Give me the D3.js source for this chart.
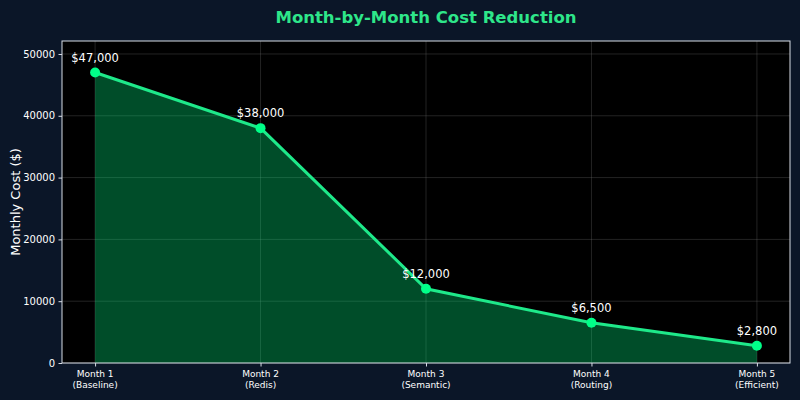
<!DOCTYPE html>
<html><head><meta charset="utf-8">
<script src="https://cdn.jsdelivr.net/npm/d3@7"></script>
<style>body{margin:0;background:#0b1628;} text{font-family:"DejaVu Sans",sans-serif;}</style>
</head><body>
<svg id="c" width="800" height="400"></svg>
<script>
const months = ["Month 1", "Month 2", "Month 3", "Month 4", "Month 5"];
const phases = ["(Baseline)", "(Redis)", "(Semantic)", "(Routing)", "(Efficient)"];
const costs = [47000, 38000, 12000, 6500, 2800];
const costLabels = ["$47,000", "$38,000", "$12,000", "$6,500", "$2,800"];
const yTicks = [0, 10000, 20000, 30000, 40000, 50000];

const svg = d3.select("#c");
const L = 62, R = 790, T = 41, B = 363;
svg.append("rect").attr("width", 800).attr("height", 400).attr("fill", "#0b1628");
svg.append("rect").attr("x", L).attr("y", T).attr("width", R - L).attr("height", B - T).attr("fill", "#000");

const x = d3.scaleLinear().domain([-0.2, 4.2]).range([L, R]);
const y = d3.scaleLinear().domain([0, 52100]).range([B, T]);

// grid
const g = svg.append("g");
g.selectAll(".gy").data(yTicks).join("line")
  .attr("x1", L).attr("x2", R).attr("y1", d => y(d)).attr("y2", d => y(d))
  .attr("stroke", "#808080").attr("stroke-opacity", 0.35).attr("stroke-width", 0.8);
g.selectAll(".gx").data(months).join("line")
  .attr("y1", T).attr("y2", B).attr("x1", (d, i) => x(i)).attr("x2", (d, i) => x(i))
  .attr("stroke", "#808080").attr("stroke-opacity", 0.35).attr("stroke-width", 0.8);

// area
const area = d3.area().x((d, i) => x(i)).y0(y(0)).y1(d => y(d));
svg.append("path").datum(costs).attr("d", area).attr("fill", "#00ff88").attr("fill-opacity", 0.3);
const line = d3.line().x((d, i) => x(i)).y(d => y(d));
svg.append("path").datum(costs).attr("d", line).attr("fill", "none").attr("stroke", "#1ee98a").attr("stroke-width", 3);
svg.selectAll(".pt").data(costs).join("circle")
  .attr("cx", (d, i) => x(i)).attr("cy", d => y(d)).attr("r", 5).attr("fill", "#00ff88");
svg.selectAll(".lbl").data(costs).join("text")
  .attr("x", (d, i) => x(i)).attr("y", d => y(d) - 11).attr("text-anchor", "middle")
  .attr("fill", "#ffffff").attr("font-size", 11.5).text((d, i) => costLabels[i]);

// spines
svg.append("rect").attr("x", L).attr("y", T).attr("width", R - L).attr("height", B - T)
  .attr("fill", "none").attr("stroke", "#d8dde6").attr("stroke-width", 1);

// y axis
const ya = svg.append("g").attr("transform", `translate(${L},0)`)
  .call(d3.axisLeft(y).tickValues(yTicks).tickFormat(d3.format("d")).tickSize(3.5).tickPadding(3.5));
ya.select(".domain").remove();
ya.selectAll("line").attr("stroke", "#d8dde6");
ya.selectAll("text").attr("fill", "#ffffff").attr("font-size", 10).attr("font-family", "DejaVu Sans");

// x axis
const xa = svg.append("g").attr("transform", `translate(0,${B})`)
  .call(d3.axisBottom(x).tickValues(d3.range(months.length)).tickFormat("").tickSize(3.5));
xa.select(".domain").remove();
xa.selectAll("line").attr("stroke", "#d8dde6");
const xl = svg.selectAll(".xl").data(months).join("text")
  .attr("x", (d, i) => x(i)).attr("y", B + 14).attr("text-anchor", "middle")
  .attr("fill", "#ffffff").attr("font-size", 9);
xl.append("tspan").attr("x", (d, i) => x(i)).text(d => d);
xl.append("tspan").attr("x", (d, i) => x(i)).attr("dy", 11).text((d, i) => phases[i]);

svg.append("text").attr("transform", `translate(20,${(T + B) / 2}) rotate(-90)`)
  .attr("text-anchor", "middle").attr("fill", "#ffffff").attr("font-size", 13).text("Monthly Cost ($)");

svg.append("text").attr("x", 426).attr("y", 23).attr("text-anchor", "middle")
  .attr("fill", "#2ee68a").attr("font-size", 16.5).attr("font-weight", "bold").text("Month-by-Month Cost Reduction");
</script>
</body></html>
